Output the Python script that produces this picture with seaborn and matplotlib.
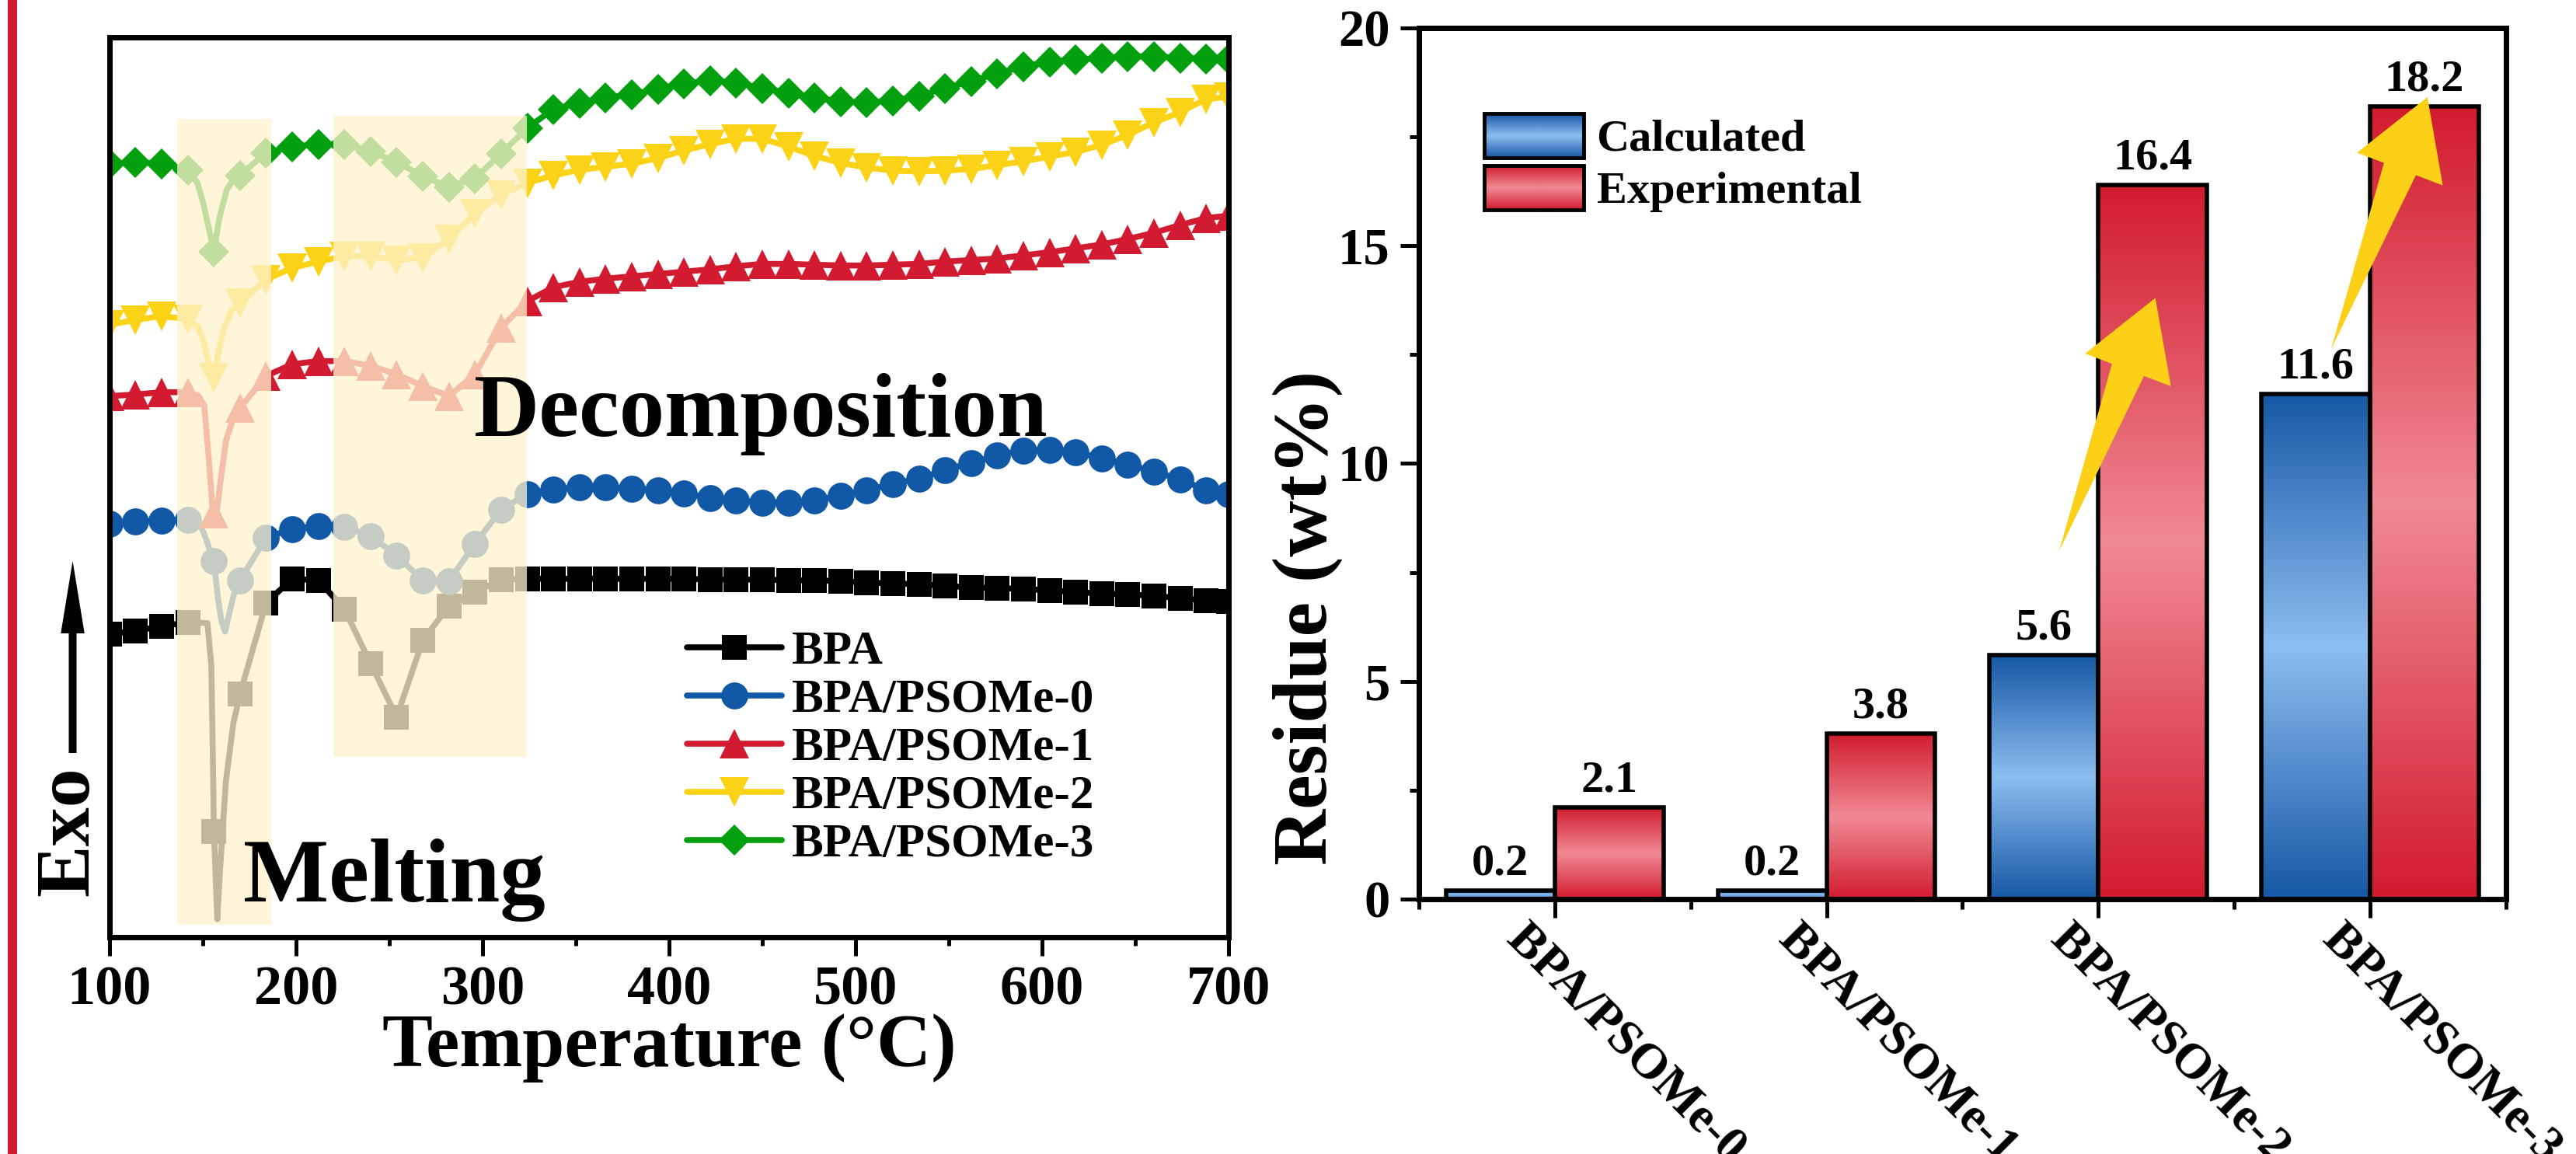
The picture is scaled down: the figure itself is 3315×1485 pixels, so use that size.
import numpy as np
import pandas as pd
import seaborn as sns
import matplotlib.pyplot as plt
from matplotlib.patches import Rectangle, Patch
from matplotlib.colors import LinearSegmentedColormap
from matplotlib.legend_handler import HandlerBase
from matplotlib.image import BboxImage
from matplotlib.transforms import Bbox, TransformedBbox, ScaledTranslation

# ---------------- DSC curves (left panel), heat flow in a.u. ----------------
temps = [100, 114, 128, 142, 156, 170, 184, 198, 212, 226, 240, 254, 268, 282,
         296, 310, 324, 338, 352, 366, 380, 394, 408, 422, 436, 450, 464, 478,
         492, 506, 520, 534, 548, 562, 576, 590, 604, 618, 632, 646, 660, 674,
         688, 700]

bpa = [3.90, 3.94, 4.00, 4.05, 1.36, 3.13, 4.30, 4.61, 4.59, 4.22, 3.52, 2.83,
       3.82, 4.26, 4.44, 4.60, 4.61, 4.61, 4.61, 4.61, 4.61, 4.61, 4.61, 4.60,
       4.60, 4.60, 4.59, 4.59, 4.58, 4.56, 4.55, 4.54, 4.52, 4.50, 4.49, 4.48,
       4.46, 4.44, 4.42, 4.41, 4.39, 4.36, 4.33, 4.32]
psome0 = [5.32, 5.35, 5.36, 5.37, 4.84, 4.59, 5.14, 5.25, 5.29, 5.28, 5.16, 4.91,
          4.59, 4.58, 5.06, 5.50, 5.70, 5.76, 5.79, 5.79, 5.77, 5.75, 5.71, 5.65,
          5.62, 5.59, 5.59, 5.62, 5.68, 5.75, 5.83, 5.90, 6.01, 6.10, 6.20, 6.26,
          6.27, 6.24, 6.16, 6.08, 5.99, 5.89, 5.75, 5.70]
psome1 = [6.96, 6.98, 7.01, 7.01, 5.45, 6.81, 7.22, 7.37, 7.41, 7.41, 7.35, 7.24,
          7.09, 6.96, 7.24, 7.84, 8.18, 8.36, 8.43, 8.47, 8.50, 8.53, 8.56, 8.59,
          8.63, 8.66, 8.66, 8.65, 8.64, 8.64, 8.65, 8.66, 8.69, 8.71, 8.73, 8.77,
          8.81, 8.86, 8.91, 8.98, 9.06, 9.16, 9.25, 9.28]
psome2 = [7.88, 7.94, 7.99, 7.95, 7.20, 8.16, 8.46, 8.61, 8.69, 8.76, 8.76, 8.71,
          8.74, 8.98, 9.31, 9.55, 9.70, 9.80, 9.87, 9.91, 9.95, 10.02, 10.12, 10.20,
          10.27, 10.27, 10.17, 10.05, 9.96, 9.90, 9.86, 9.85, 9.86, 9.88, 9.93, 9.98,
          10.04, 10.10, 10.19, 10.32, 10.48, 10.61, 10.78, 10.81]
psome3 = [9.95, 9.97, 9.95, 9.87, 8.82, 9.80, 10.09, 10.17, 10.20, 10.20, 10.11, 9.97,
          9.79, 9.65, 9.76, 10.08, 10.41, 10.65, 10.73, 10.80, 10.84, 10.91, 10.98, 11.02,
          10.99, 10.92, 10.86, 10.80, 10.75, 10.74, 10.76, 10.82, 10.92, 11.01, 11.11, 11.20,
          11.26, 11.29, 11.31, 11.33, 11.33, 11.31, 11.30, 11.30]

# extra line points (no marker) that trace the sharp melting dips
bpa_dip_t = [152.5, 154.6, 155.4, 157.8, 159.3, 162.4, 166.4]
bpa_dip_v = [4.04, 3.50, 2.37, 0.23, 0.87, 2.00, 2.75]
psome0_dip_t = [148.7, 151.8, 154.2, 158.1, 160.0, 162.0, 164.4, 166.7]
psome0_dip_v = [5.31, 5.12, 4.95, 4.37, 4.07, 3.93, 4.18, 4.41]
psome1_dip_t = [147.5, 150.8, 152.9, 155.0, 157.1, 159.2, 162.5, 166.7]
psome1_dip_v = [6.97, 6.84, 6.26, 5.59, 5.39, 5.81, 6.39, 6.70]
psome2_dip_t = [147.2, 150.3, 152.6, 158.1, 161.2, 165.2]
psome2_dip_v = [7.86, 7.67, 7.45, 7.48, 7.82, 8.05]
psome3_dip_t = [147.2, 150.3, 153.4, 158.9, 162.8, 166.7]
psome3_dip_v = [9.70, 9.44, 9.10, 9.25, 9.61, 9.76]

names = ["BPA", "BPA/PSOMe-0", "BPA/PSOMe-1", "BPA/PSOMe-2", "BPA/PSOMe-3"]
colors = ["#000000", "#1158A6", "#D21B30", "#FCD216", "#02A00F"]
markers = ["s", "o", "^", "v", "D"]
msizes = [23, 25, 28, 28, 20]

# highlighted temperature windows (melting / decomposition)
band_lo = [136.2, 220.2]
band_hi = [186.8, 323.8]
band_bot = [0.155, 2.32]
band_top = [10.53, 10.57]

# ---------------- residue (right panel) ----------------
samples = ["BPA/PSOMe-0", "BPA/PSOMe-1", "BPA/PSOMe-2", "BPA/PSOMe-3"]
calculated = [0.2, 0.2, 5.6, 11.6]
experimental = [2.1, 3.8, 16.4, 18.2]

arrow_tail = [(1.856, 7.99), (2.857, 12.63)]
arrow_tip = [(2.210, 13.80), (3.211, 18.41)]

sns.set_style("ticks", rc={"axes.edgecolor": "black", "xtick.color": "black",
                           "ytick.color": "black", "text.color": "black",
                           "axes.labelcolor": "black"})
plt.rcParams['font.family'] = ['Liberation Serif', 'DejaVu Serif']
plt.rcParams['font.weight'] = 'bold'
plt.rcParams['axes.labelweight'] = 'bold'

fig = plt.figure(figsize=(33.15, 14.85), dpi=100)
ax1 = fig.add_axes([0.0425, 0.1879, 0.4344, 0.7801])
ax2 = fig.add_axes([0.5508, 0.2209, 0.4220, 0.7549])

# red strip at the far left
fig.add_artist(Rectangle((10 / 3315, 0), 12 / 3315, 1, transform=fig.transFigure,
                         color="#D51B33", lw=0))

# ---- left: DSC ----
all_vals = [bpa, psome0, psome1, psome2, psome3]
all_dt = [bpa_dip_t, psome0_dip_t, psome1_dip_t, psome2_dip_t, psome3_dip_t]
all_dv = [bpa_dip_v, psome0_dip_v, psome1_dip_v, psome2_dip_v, psome3_dip_v]
for name, vals, dt, dv, c, mk, ms in zip(names, all_vals, all_dt, all_dv, colors, markers, msizes):
    df = pd.DataFrame({"T": temps + dt, "v": vals + dv,
                       "mark": [True] * len(temps) + [False] * len(dt)})
    df = df.sort_values("T").reset_index(drop=True)
    every = [int(i) for i in df.index[df["mark"]]]
    sns.lineplot(data=df, x="T", y="v", ax=ax1, color=c, marker=mk,
                 markevery=every, markeredgewidth=0,
                 estimator=None, sort=False, label=name)
    line = ax1.lines[-1]
    line.set_linewidth(5.5)
    line.set_markersize(ms)
    line.set_markeredgewidth(0)

for lo, hi, b, t in zip(band_lo, band_hi, band_bot, band_top):
    ax1.add_patch(Rectangle((lo, b), hi - lo, t - b, facecolor="#FFF2CD",
                            alpha=0.76, edgecolor="none", zorder=3))

ax1.text(171.9, 0.455, "Melting", fontsize=84, ha="left", va="baseline", zorder=4)
ax1.text(295.3, 6.45, "Decomposition", fontsize=84, ha="left", va="baseline", zorder=4)

ax1.set_xlim(100, 700)
ax1.set_ylim(0, 11.58)
ax1.set_xticks([100, 200, 300, 400, 500, 600, 700])
ax1.set_xticks([150, 250, 350, 450, 550, 650], minor=True)
ax1.set_yticks([])
ax1.tick_params(axis="x", which="major", length=17, width=3.6, direction="out",
                pad=9, labelsize=52)
ax1.tick_params(axis="x", which="minor", length=8, width=3.6, direction="out")
ax1.set_ylabel("")
ax1.set_xlabel("Temperature (°C)", fontsize=70)
ax1.xaxis.set_label_coords(0.5, -0.085)
for sp in ax1.spines.values():
    sp.set_linewidth(5)
    sp.set_visible(True)

ax1.legend(loc="upper left", bbox_to_anchor=(0.516, 0.341), frameon=False,
           fontsize=44, handlelength=2.0, handletextpad=0.21, labelspacing=0.1,
           borderpad=0, borderaxespad=0)

fig.text(89 / 3315, 1 - 1070 / 1485, "Exo", rotation=90, ha="center", va="center",
         fontsize=72)
ax1.annotate("", xy=(93.5 / 3315, 1 - 722 / 1485), xytext=(93.5 / 3315, 1 - 969 / 1485),
             xycoords="figure fraction", textcoords="figure fraction",
             arrowprops=dict(arrowstyle="simple,head_length=0.67,head_width=0.22,tail_width=0.072",
                             fc="black", ec="none", lw=0, mutation_scale=100,
                             shrinkA=0, shrinkB=0),
             annotation_clip=False)

# ---- right: residue bars ----
blue_cmap = LinearSegmentedColormap.from_list("calc", ["#1658A5", "#8CBEF0", "#1658A5"])
red_cmap = LinearSegmentedColormap.from_list("exp", ["#D21C2E", "#F08A94", "#D21C2E"])

res = pd.DataFrame({"sample": samples * 2,
                    "kind": ["Calculated"] * 4 + ["Experimental"] * 4,
                    "residue": calculated + experimental})
sns.barplot(data=res, x="sample", y="residue", hue="kind", ax=ax2, width=0.8,
            palette=["#1658A5", "#D21C2E"], edgecolor="black", linewidth=4,
            errorbar=None, legend=False)

grad = np.linspace(0, 1, 256).reshape(-1, 1)
for cont, cmap in zip(ax2.containers, [blue_cmap, red_cmap]):
    for bar in cont:
        x0, y0 = bar.get_x(), bar.get_y()
        w, h = bar.get_width(), bar.get_height()
        im = ax2.imshow(grad, cmap=cmap, extent=[x0, x0 + w, y0, y0 + h], origin="lower",
                        aspect="auto", zorder=2, interpolation="bicubic")
        im.set_clip_path(bar)
        bar.set_facecolor("none")
        bar.set_zorder(3)
    ax2.bar_label(cont, fmt="%.1f", padding=6, fontsize=42)

ax2.set_xlim(-0.5, 3.5)
ax2.set_ylim(0, 20)
ax2.set_yticks([0, 5, 10, 15, 20])
ax2.set_yticks([2.5, 7.5, 12.5, 17.5], minor=True)
ax2.set_xticks(range(4))
ax2.set_xticks([-0.5, 0.5, 1.5, 2.5, 3.5], minor=True)
ax2.set_xticklabels(samples, rotation=-45, ha="left", va="top", rotation_mode="anchor",
                    fontsize=46)
ax2.tick_params(axis="both", which="major", length=17, width=3.6, direction="out", pad=6)
ax2.tick_params(axis="y", which="major", labelsize=48, pad=10)
ax2.tick_params(axis="both", which="minor", length=9, width=3.6, direction="out")
ax2.set_xlabel("")
ax2.set_ylabel("Residue (wt%)", fontsize=72)
ax2.yaxis.set_label_coords(-0.07, 0.323)
for sp in ax2.spines.values():
    sp.set_linewidth(5)
    sp.set_visible(True)
shift = ScaledTranslation(-23 / 72, 7 / 72, fig.dpi_scale_trans)
for lbl in ax2.get_xticklabels():
    lbl.set_transform(lbl.get_transform() + shift)

# yellow tapered arrows: geometry (px) built around data-space tail / tip
head_len, head_half, shaft_half = 99, 59, 22
to_px = ax2.transData
for tail, tip in zip(arrow_tail, arrow_tip):
    p0 = to_px.transform(tail)
    p1 = to_px.transform(tip)
    u = (p1 - p0) / np.hypot(*(p1 - p0))
    n = np.array([-u[1], u[0]])
    base = p1 - u * head_len
    poly = np.array([p0, base + n * shaft_half, base + n * head_half, p1,
                     base - n * head_half, base - n * shaft_half])
    poly = to_px.inverted().transform(poly)
    ax2.fill(poly[:, 0], poly[:, 1], color="#FBD016", lw=0, zorder=5)


class GradientHandler(HandlerBase):
    def __init__(self, cmap):
        super().__init__()
        self.cmap = cmap

    def create_artists(self, legend, orig_handle, xdescent, ydescent, width, height,
                       fontsize, trans):
        box = TransformedBbox(Bbox.from_bounds(-xdescent, -ydescent, width, height), trans)
        img = BboxImage(box, cmap=self.cmap, origin="lower", interpolation="bicubic")
        img.set_data(np.linspace(0, 1, 64).reshape(-1, 1))
        edge = Rectangle((-xdescent, -ydescent), width, height, facecolor="none",
                         edgecolor="black", lw=3.5, transform=trans)
        return [img, edge]


h_calc = Patch(label="Calculated")
h_exp = Patch(label="Experimental")
ax2.legend(handles=[h_calc, h_exp],
           handler_map={h_calc: GradientHandler(blue_cmap), h_exp: GradientHandler(red_cmap)},
           loc="upper left", bbox_to_anchor=(0.06, 0.902), frameon=False, fontsize=42,
           handlelength=2.2, handleheight=1.12, handletextpad=0.28, labelspacing=0.12,
           borderpad=0, borderaxespad=0)

fig.savefig("out.png", dpi=100)
